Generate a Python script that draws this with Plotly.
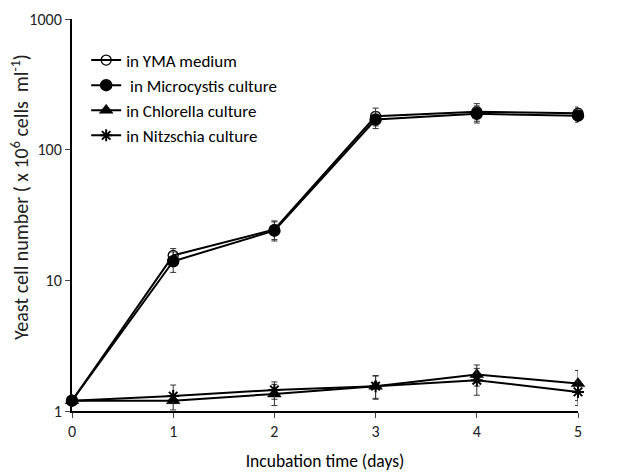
import plotly.graph_objects as go

days = [0, 1, 2, 3, 4, 5]

yma = [1.2, 15.5, 24.5, 180, 195, 190]
yma_err = [0.0, 2.0, 4.0, 28, 30, 22]

micro = [1.2, 14.0, 24.0, 170, 188, 182]
micro_err = [0.0, 2.5, 4.0, 25, 28, 20]

chlor = [1.2, 1.2, 1.35, 1.55, 1.9, 1.62]
chlor_err = [0.0, 0.05, 0.25, 0.3, 0.35, 0.42]

nitz = [1.2, 1.3, 1.45, 1.55, 1.72, 1.4]
nitz_err = [0.0, 0.28, 0.22, 0.32, 0.4, 0.3]

names = ["in YMA medium", " in Microcystis culture", "in Chlorella culture", "in Nitzschia culture"]
x_title = "Incubation time (days)"
y_title = "Yeast cell number ( x 10<sup>6</sup> cells  ml<sup>-1</sup>)"

FONT = "Carlito, Lato, 'Open Sans', sans-serif"

fig = go.Figure()

def add(y, err, name, symbol, size, fillcolor, lw=1.5):
    fig.add_trace(go.Scatter(
        x=days, y=y, name=name, mode="lines+markers",
        line=dict(color="black", width=2),
        marker=dict(symbol=symbol, size=size, color=fillcolor,
                    line=dict(color="black", width=lw)),
        error_y=dict(type="data", array=err, visible=True, color="#333333",
                     thickness=1, width=3),
        cliponaxis=False,
    ))

add(yma, yma_err, names[0], "circle-open", 10, "black", 1.3)
add(micro, micro_err, names[1], "circle", 11, "black")
add(chlor, chlor_err, names[2], "triangle-up", 12, "black", 0.5)
add(nitz, nitz_err, names[3], "asterisk-open", 10, "black", 2)

fig.update_layout(
    width=644, height=473,
    margin=dict(l=72, r=66, t=19, b=62, autoexpand=False),
    paper_bgcolor="white", plot_bgcolor="white",
    font=dict(family=FONT, color="black", size=16),
    showlegend=True,
    legend=dict(x=0.028, y=0.94, xanchor="left", yanchor="top",
                bgcolor="rgba(0,0,0,0)", font=dict(size=17, family=FONT),
                tracegroupgap=0, itemwidth=30),
    xaxis=dict(range=[0, 5], tickvals=days, ticks="outside", ticklen=5,
               showline=True, linecolor="black", linewidth=2, showgrid=False,
               zeroline=False, automargin=False, tickfont=dict(size=16, color="#222"),
               title=dict(text=x_title, font=dict(size=17.5))),
    yaxis=dict(type="log", range=[0, 3], tickvals=[1, 10, 100, 1000],
               ticktext=["1", "10", "100", "1000"], ticks="outside", ticklen=5,
               showline=True, linecolor="black", linewidth=2, showgrid=False,
               zeroline=False, automargin=False, tickfont=dict(size=16, color="#222")),
    annotations=[dict(text=y_title, xref="paper", yref="paper",
                      x=(20 - 72) / 506, y=(411 - 197) / 392, xanchor="center",
                      yanchor="middle", textangle=-90, showarrow=False,
                      font=dict(size=20, family=FONT, color="#222"))],
)

fig.write_html("out.html", config={"displayModeBar": False},
               post_script="document.body.style.margin='0';document.body.style.padding='0';")
